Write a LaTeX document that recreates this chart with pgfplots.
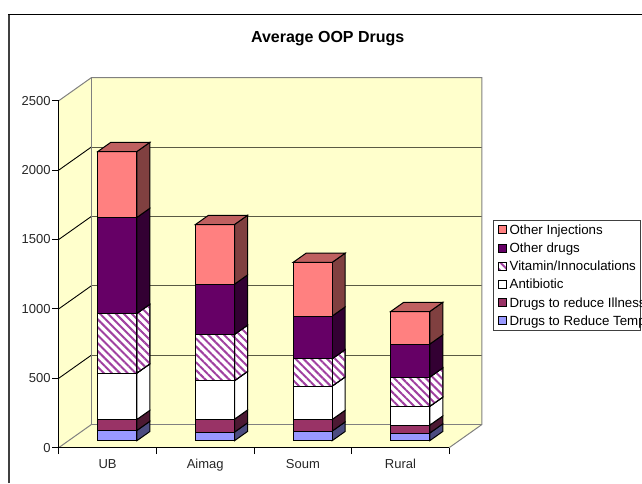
\documentclass[border=0pt]{standalone}
\usepackage{fontspec}
\setmainfont{Liberation Sans}
\usepackage{pgfplots}
\usepackage{pgfplotstable}
\pgfplotsset{compat=1.18}
\usetikzlibrary{patterns.meta}

\definecolor{wall}{HTML}{FFFFCC}
\definecolor{tempc}{HTML}{9999FF}
\definecolor{illc}{HTML}{993366}
\definecolor{drugc}{HTML}{660066}
\definecolor{injc}{HTML}{FF8080}
\definecolor{hatchc}{HTML}{A040A0}
\definecolor{gridc}{HTML}{5A5A44}

% Segment sizes of each stacked column
\pgfplotstableread{
cat temp illness antibiotic vitamin other injections
0   74   79      334        430     692   475
1   62   93      277        334     362   430
2   69   84      240        197     308   387
3   55   57      135        211     238   235
}\drugdata

% Depth of the floor expressed in axis units
\def\dx{0.3333}
\def\dy{166}

\tikzset{
  hatchfill/.style={pattern={Lines[angle=-45,distance=5.6pt,line width=2pt]},pattern color=hatchc},
}
\pgfplotsset{
  front temp/.style={fill=tempc},
  side temp/.style={fill=tempc!50!black},
  front illness/.style={fill=illc},
  side illness/.style={fill=illc!50!black},
  front antibiotic/.style={fill=white},
  side antibiotic/.style={fill=white},
  front vitamin/.style={preaction={fill=white},hatchfill},
  side vitamin/.style={preaction={fill=white},hatchfill},
  front other/.style={fill=drugc},
  side other/.style={fill=drugc!50!black},
  front injections/.style={fill=injc},
  side injections/.style={fill=injc!50!black},
  top injections/.style={fill=injc!75!black},
}

% One box of a column: #1 series, #2 category, #3 lower value, #4 upper value
\newcommand\columnbox[4]{%
  \pgfmathsetmacro\xa{#2+0.3+0.3*\dx}%
  \pgfmathsetmacro\xb{\xa+0.4}%
  \pgfmathsetmacro\xc{\xb+0.4*\dx}%
  \pgfmathsetmacro\ya{#3+0.3*\dy}%
  \pgfmathsetmacro\yb{#4+0.3*\dy}%
  \pgfmathsetmacro\yc{\ya+0.4*\dy}%
  \pgfmathsetmacro\yd{\yb+0.4*\dy}%
  \edef\next{\noexpand\addplot[forget plot,draw=black,line width=1pt,side #1]
    coordinates {(\xb,\ya) (\xc,\yc) (\xc,\yd) (\xb,\yb)} --cycle;}\next
  \edef\next{\noexpand\addplot[forget plot,draw=black,line width=1pt,front #1]
    coordinates {(\xa,\ya) (\xb,\ya) (\xb,\yb) (\xa,\yb)} --cycle;}\next
}
% Lid of a column: #1 series, #2 category, #3 value
\newcommand\columnlid[3]{%
  \pgfmathsetmacro\xa{#2+0.3+0.3*\dx}%
  \pgfmathsetmacro\xb{\xa+0.4}%
  \pgfmathsetmacro\xc{\xb+0.4*\dx}%
  \pgfmathsetmacro\xd{\xa+0.4*\dx}%
  \pgfmathsetmacro\yb{#3+0.3*\dy}%
  \pgfmathsetmacro\yd{\yb+0.4*\dy}%
  \edef\next{\noexpand\addplot[forget plot,draw=black,line width=1pt,top #1]
    coordinates {(\xa,\yb) (\xb,\yb) (\xc,\yd) (\xd,\yd)} --cycle;}\next
}

\begin{document}
\begin{tikzpicture}[x=1pt,y=1pt]
\useasboundingbox (0,0) rectangle (642,483);
\clip (0,0) rectangle (642,483);
\draw[line width=1.4pt,black!75] (9,0) -- (9,468.5);
\draw[line width=1.2pt,black] (8.3,468.5) -- (642,468.5);
\begin{axis}[
  at={(58.8pt,35.4pt)},
  anchor=south west,
  scale only axis,
  width=390.5pt,
  height=346.9pt,
  xmin=0,xmax=4,ymin=0,ymax=2500,
  clip=false,
  axis on top,
  axis x line=bottom,
  axis y line=left,
  axis line style={-,line width=1pt,black},
  tick style={black,line width=1pt},
  tick align=outside,
  major tick length=6.5pt,
  xtick={0,1,2,3,4},
  xticklabels={},
  extra x ticks={0.5,1.5,2.5,3.5},
  extra x tick labels={UB,Aimag,Soum,Rural},
  extra x tick style={major tick length=0pt},
  ytick={0,500,1000,1500,2000,2500},
  tick label style={font=\fontsize{13}{15}\selectfont,text=black!85},
  /pgf/number format/assume math mode=true,
  /pgf/number format/1000 sep={},
  x tick label style={yshift=-8pt},
  y tick label style={xshift=1.8pt},
  title={\fontsize{16}{19}\selectfont\bfseries Average OOP Drugs},
  title style={at={(rel axis cs:0.6886,1.1836)},anchor=center,yshift=-8pt},
  legend style={
    at={(1.112,0.656)},anchor=north west,
    draw=black!75,line width=1pt,
    inner xsep=4.7pt,inner ysep=2.8pt,
    font=\fontsize{13.3}{13}\selectfont,
    legend cell align=left,
    row sep=5.2pt,
    nodes={inner sep=0pt,text height=11pt,text depth=2pt},
    /tikz/every odd column/.append style={column sep=2.5pt},
  },
  legend image code/.code={\draw[#1,line width=0.9pt,draw=black] (0pt,-4pt) rectangle (8pt,4pt);},
]
% Side wall, back wall and floor
\addplot[forget plot,draw=none,fill=wall] coordinates {(0,0) (\dx,\dy) (\dx,2666) (0,2500)} --cycle;
\addplot[forget plot,draw=none,fill=wall] coordinates {(\dx,\dy) (4.3333,\dy) (4.3333,2666) (\dx,2666)} --cycle;
\addplot[forget plot,draw=none,fill=wall] coordinates {(0,0) (4,0) (4.3333,\dy) (\dx,\dy)} --cycle;
% Gridlines across both walls
\pgfplotsforeachungrouped \v in {500,1000,1500,2000}{%
  \pgfmathsetmacro\vb{\v+\dy}%
  \edef\next{\noexpand\addplot[forget plot,black,line width=0.9pt] coordinates {(0,\v) (\dx,\vb)};}\next
  \edef\next{\noexpand\addplot[forget plot,gridc,line width=1pt] coordinates {(\dx,\vb) (4.3333,\vb)};}\next
}
% Wall edges
\addplot[forget plot,draw=black!50,line width=1pt] coordinates {(0,2500) (\dx,2666) (4.3333,2666) (4.3333,\dy) (4,0)};
\addplot[forget plot,draw=black!50,line width=1pt] coordinates {(\dx,2666) (\dx,\dy) (4.3333,\dy)};
\addplot[forget plot,draw=black!50,line width=1pt] coordinates {(0,0) (\dx,\dy)};

% Stacked columns, lowest series first
\pgfplotsforeachungrouped \c in {0,1,2,3}{%
  \def\base{0}%
  \pgfplotsforeachungrouped \s in {temp,illness,antibiotic,vitamin,other,injections}{%
    \pgfplotstablegetelem{\c}{\s}\of\drugdata
    \pgfmathsetmacro\upper{\base+\pgfplotsretval}%
    \columnbox{\s}{\c}{\base}{\upper}%
    \global\let\base\upper
  }%
  \columnlid{injections}{\c}{\base}%
}

% Legend keys, top entry first
\addlegendimage{fill=injc}
\addlegendentry{\makebox[126.5pt][l]{Other Injections}}
\addlegendimage{fill=drugc}
\addlegendentry{\makebox[126.5pt][l]{Other drugs}}
\addlegendimage{preaction={fill=white},hatchfill}
\addlegendentry{\makebox[126.5pt][l]{Vitamin/Innoculations}}
\addlegendimage{fill=white}
\addlegendentry{\makebox[126.5pt][l]{Antibiotic}}
\addlegendimage{fill=illc}
\addlegendentry{\makebox[126.5pt][l]{Drugs to reduce Illness}}
\addlegendimage{fill=tempc}
\addlegendentry{\makebox[126.5pt][l]{Drugs to Reduce Temp}}
\end{axis}
\end{tikzpicture}
\end{document}
